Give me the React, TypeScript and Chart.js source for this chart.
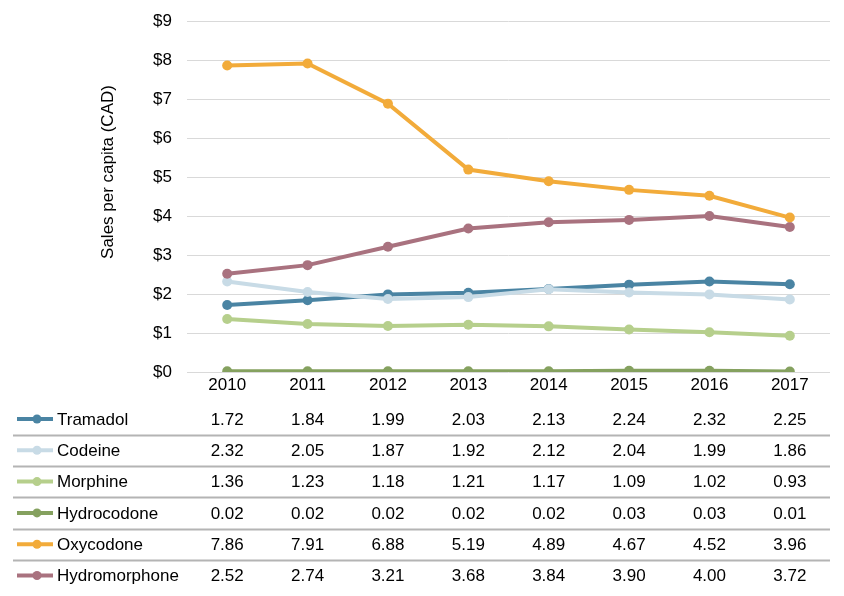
import React, { useEffect, useRef } from 'react';
import { Chart, registerables } from 'chart.js';

Chart.register(...registerables);

const years = ['2010', '2011', '2012', '2013', '2014', '2015', '2016', '2017'];
const tramadol = [1.72, 1.84, 1.99, 2.03, 2.13, 2.24, 2.32, 2.25];
const codeine = [2.32, 2.05, 1.87, 1.92, 2.12, 2.04, 1.99, 1.86];
const morphine = [1.36, 1.23, 1.18, 1.21, 1.17, 1.09, 1.02, 0.93];
const hydrocodone = [0.02, 0.02, 0.02, 0.02, 0.02, 0.03, 0.03, 0.01];
const oxycodone = [7.86, 7.91, 6.88, 5.19, 4.89, 4.67, 4.52, 3.96];
const hydromorphone = [2.52, 2.74, 3.21, 3.68, 3.84, 3.9, 4.0, 3.72];

const seriesNames = ['Tramadol', 'Codeine', 'Morphine', 'Hydrocodone', 'Oxycodone', 'Hydromorphone'];
const seriesValues = [tramadol, codeine, morphine, hydrocodone, oxycodone, hydromorphone];
const seriesColors = ['#4a84a3', '#c8dbe6', '#b6cf8c', '#85a15f', '#f2ab3a', '#a9727f'];
const yAxisTitle = 'Sales per capita (CAD)';

const FONT = '"Liberation Sans", Arial, sans-serif';

const tablePlugin = {
  id: 'dataTable',
  afterDraw(chart: any) {
    const ctx = chart.ctx;
    const xs = chart.scales.x;
    const area = chart.chartArea;
    ctx.save();
    // y axis title
    ctx.save();
    ctx.translate(100, 164);
    ctx.rotate(-Math.PI / 2);
    ctx.font = `17px ${FONT}`;
    ctx.fillStyle = '#000';
    ctx.textAlign = 'center';
    ctx.textBaseline = 'middle';
    ctx.fillText(yAxisTitle, 0, 0);
    ctx.restore();

    const rowStart = 411;
    const rowStep = 31.3;
    // separators
    ctx.strokeStyle = '#b4b4b4';
    ctx.lineWidth = 2;
    for (let i = 0; i < seriesNames.length - 1; i++) {
      const y = Math.round(rowStart + rowStep * (i + 0.5)) + 0.5;
      ctx.beginPath();
      ctx.moveTo(5, y);
      ctx.lineTo(area.right, y);
      ctx.stroke();
    }
    ctx.font = `17px ${FONT}`;
    ctx.textBaseline = 'middle';
    seriesNames.forEach((name, i) => {
      const y = rowStart + rowStep * i;
      const c = seriesColors[i];
      ctx.strokeStyle = c;
      ctx.lineWidth = 4;
      ctx.beginPath();
      ctx.moveTo(9, y);
      ctx.lineTo(45, y);
      ctx.stroke();
      ctx.fillStyle = c;
      ctx.beginPath();
      ctx.arc(29, y, 4.5, 0, Math.PI * 2);
      ctx.fill();
      ctx.fillStyle = '#000';
      ctx.textAlign = 'left';
      ctx.fillText(name, 49, y + 1);
      ctx.textAlign = 'center';
      seriesValues[i].forEach((v, j) => {
        const x = xs.getPixelForValue(j);
        ctx.fillText(v.toFixed(2), x, y + 1);
      });
    });
    ctx.restore();
  },
};

export default function App() {
  const ref = useRef<HTMLCanvasElement | null>(null);
  useEffect(() => {
    if (!ref.current) return;
    const chart = new Chart(ref.current, {
      type: 'line',
      data: {
        labels: years,
        datasets: seriesNames.map((name, i) => ({
          label: name,
          data: seriesValues[i],
          borderColor: seriesColors[i],
          backgroundColor: seriesColors[i],
          borderWidth: 4,
          pointRadius: 5,
          pointBorderWidth: 0,
          pointHoverRadius: 5,
          tension: 0,
          fill: false,
          order: name === 'Oxycodone' ? -1 : seriesNames.length - i,
        })),
      },
      options: {
        animation: false,
        responsive: false,
        maintainAspectRatio: false,
        layout: { padding: { top: 13, right: 6, left: 0, bottom: 0 } },
        plugins: {
          legend: { display: false },
          tooltip: { enabled: false },
        },
        scales: {
          x: {
            offset: true,
            grid: { display: false, drawTicks: false },
            border: { display: false },
            ticks: { color: '#000', font: { family: FONT, size: 17 }, padding: 3, maxRotation: 0 },
            afterFit: (s: any) => { s.height = 216; },
          },
          y: {
            min: 0,
            max: 9,
            grid: { color: '#d9d9d9', lineWidth: 1, drawTicks: true, tickLength: 15, tickColor: 'rgba(0,0,0,0)' },
            border: { display: false },
            ticks: {
              stepSize: 1,
              color: '#000',
              padding: 0,
              font: { family: FONT, size: 17 },
              callback: (v: any) => '$' + v,
            },
            afterFit: (s: any) => { s.width = 179; },
          },
        },
      },
      plugins: [tablePlugin],
    });
    return () => chart.destroy();
  }, []);
  return (
    <div style={{ width: 828, height: 580 }}>
      <canvas ref={ref} width={828} height={580} style={{ width: 828, height: 580 }} />
    </div>
  );
}
